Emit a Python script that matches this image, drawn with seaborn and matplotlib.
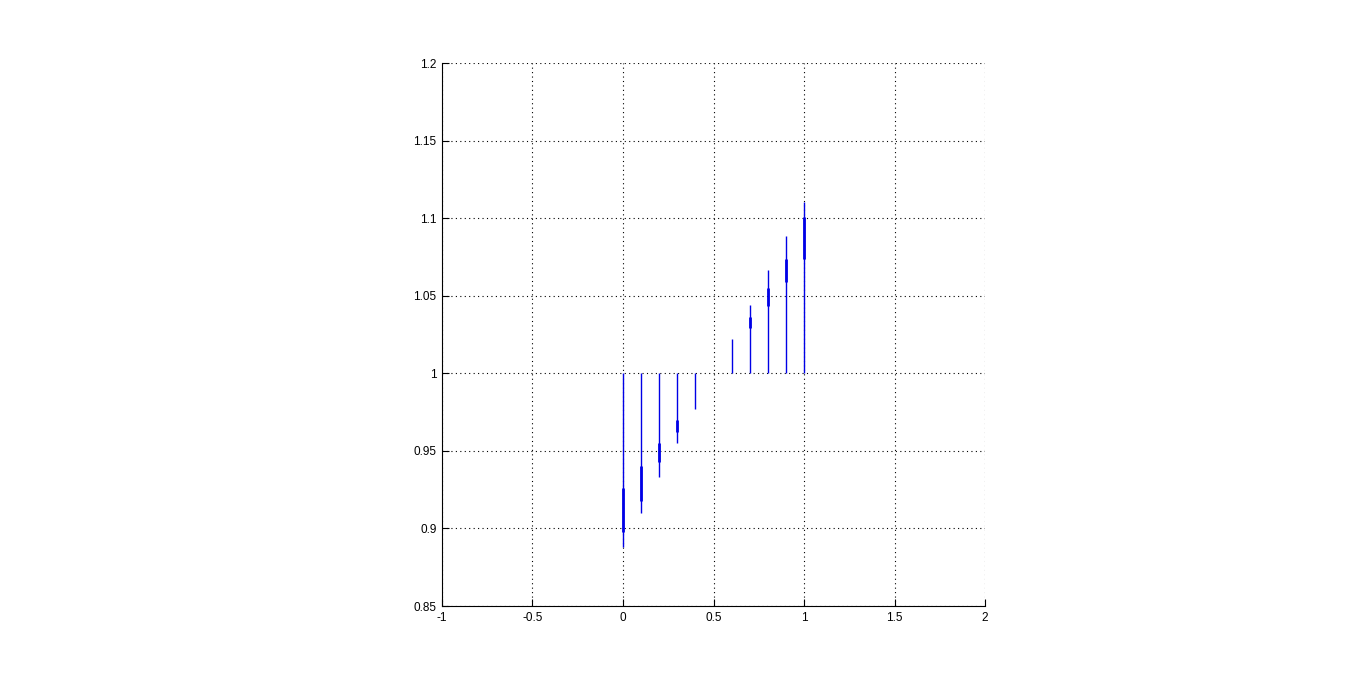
import matplotlib
matplotlib.use("Agg")
import matplotlib.pyplot as plt
import seaborn as sns
import numpy as np

# data
x_pos = [0.0, 0.1, 0.2, 0.3, 0.4, 0.6, 0.7, 0.8, 0.9, 1.0]
tip = [0.888, 0.910, 0.933, 0.955, 0.977, 1.022, 1.044, 1.0665, 1.0885, 1.1106]
box_lo = [0.898, 0.918, 0.943, 0.962, None, None, 1.029, 1.0436, 1.059, 1.0736]
box_hi = [0.926, 0.940, 0.955, 0.970, None, None, 1.0364, 1.0551, 1.0736, 1.1009]
base = 1.0
x_ticks = [-1, -0.5, 0, 0.5, 1, 1.5, 2]
x_tick_labels = ["-1", "-0.5", "0", "0.5", "1", "1.5", "2"]
y_ticks = [0.85, 0.9, 0.95, 1.0, 1.05, 1.1, 1.15, 1.2]
y_tick_labels = ["0.85", "0.9", "0.95", "1", "1.05", "1.1", "1.15", "1.2"]

sns.set_style("ticks")
plt.rcParams['font.family'] = ['Liberation Sans', 'DejaVu Sans']

fig = plt.figure(figsize=(13.67, 6.91), dpi=100)
ax = fig.add_axes([0.3233, 0.123, 0.7206 - 0.3233, 0.9088 - 0.123])

ax.vlines(x_pos, [base] * len(x_pos), tip, color="#0000e6", linewidth=1.0, zorder=3)
bx = [x for x, lo in zip(x_pos, box_lo) if lo is not None]
blo = [lo for lo in box_lo if lo is not None]
bhi = [hi for hi in box_hi if hi is not None]
ax.vlines(bx, blo, bhi, color="#0000e6", linewidth=2.0, zorder=3)

ax.set_xlim(-1, 2)
ax.set_ylim(0.85, 1.2)
ax.set_xticks(x_ticks)
ax.set_xticklabels(x_tick_labels)
ax.set_yticks(y_ticks)
ax.set_yticklabels(y_tick_labels)
ax.grid(True, linestyle=(0, (1, 3)), color="black", linewidth=0.8)
ax.set_axisbelow(True)
ax.tick_params(direction="in", length=5, width=0.8, labelsize=8.5, colors="black", pad=4)
for s in ["left", "bottom"]:
    ax.spines[s].set_color("black")
    ax.spines[s].set_linewidth(0.8)
sns.despine(ax=ax, top=True, right=True)

fig.savefig("out.png", dpi=100, facecolor="white")
